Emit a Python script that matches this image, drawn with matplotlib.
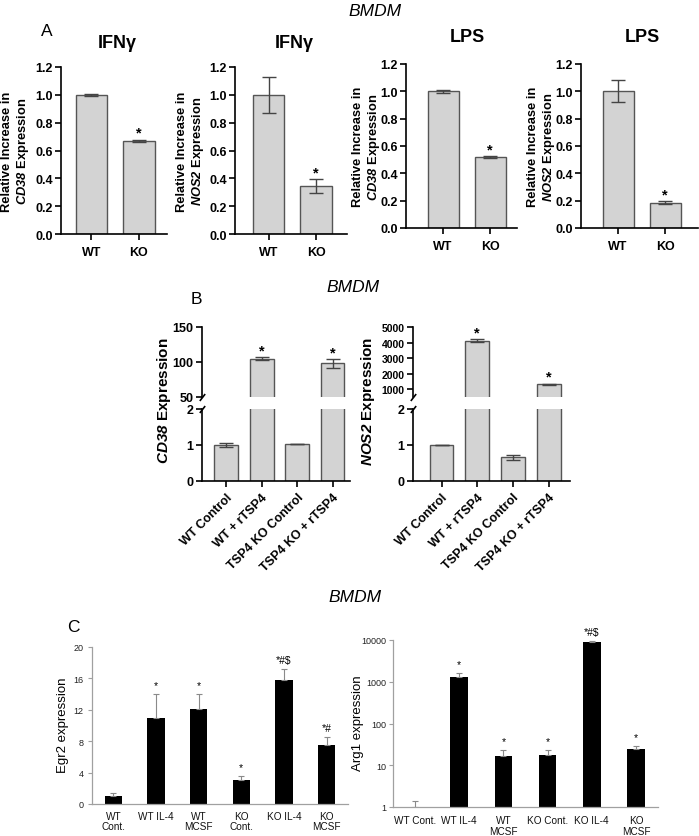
import matplotlib
matplotlib.use('Agg')
import matplotlib.pyplot as plt
import numpy as np
from matplotlib.ticker import FixedLocator, FixedFormatter, NullLocator

plt.rcParams['font.family'] = ['Liberation Sans', 'DejaVu Sans']
plt.rcParams['mathtext.fontset'] = 'custom'
plt.rcParams['mathtext.rm'] = 'Liberation Sans'
plt.rcParams['mathtext.it'] = 'Liberation Sans:italic'
plt.rcParams['mathtext.bf'] = 'Liberation Sans:bold'
plt.rcParams['mathtext.bfit'] = 'Liberation Sans:italic:bold'

# ---------------- data ----------------
a_groups = ['WT', 'KO']
a_titles = ['IFNγ', 'IFNγ', 'LPS', 'LPS']
a_genes = ['CD38', 'NOS2', 'CD38', 'NOS2']
a_means = [[1.0, 0.67], [1.0, 0.345], [1.0, 0.52], [1.0, 0.185]]
a_errs = [[0.005, 0.007], [0.13, 0.047], [0.01, 0.005], [0.08, 0.01]]
a_stars = ['', '*']

b_groups = ['WT Control', 'WT + rTSP4', 'TSP4 KO Control', 'TSP4 KO + rTSP4']
b_cd38_mean = [1.0, 105, 1.03, 98]
b_cd38_err = [0.06, 2, 0.005, 6]
b_nos2_mean = [1.0, 4120, 0.66, 1330]
b_nos2_err = [0.01, 80, 0.07, 30]
b_stars = ['', '*', '', '*']
b_cd38_upper_ticks = [50, 100, 150]
b_nos2_upper_ticks = [1000, 2000, 3000, 4000, 5000]
b_lower_ticks = [0, 1, 2]

c_egr2_labels = ['WT\nCont.', 'WT IL-4', 'WT\nMCSF', 'KO\nCont.', 'KO IL-4', 'KO\nMCSF']
c_egr2_mean = [1.0, 11.0, 12.1, 3.1, 15.8, 7.55]
c_egr2_err = [0.4, 3.0, 1.9, 0.45, 1.4, 0.95]
c_egr2_sig = ['', '*', '*', '*', '*#$', '*#']
c_egr2_ticks = [0, 4, 8, 12, 16, 20]
c_arg1_labels = ['WT Cont.', 'WT IL-4', 'WT\nMCSF', 'KO Cont.', 'KO IL-4', 'KO\nMCSF']
c_arg1_mean = [1.0, 1290, 16.6, 17.5, 8950, 24.5]
c_arg1_err = [0.4, 300, 6.5, 5.5, 600, 4.5]
c_arg1_sig = ['', '*', '*', '*', '*#$', '*']
c_arg1_ticks = [1, 10, 100, 1000, 10000]

# ---------------- figure ----------------
W, H = 699, 837
fig = plt.figure(figsize=(W / 100, H / 100), dpi=100)


def rect(x0, x1, y0, y1):
    return [x0 / W, 1 - y1 / H, (x1 - x0) / W, (y1 - y0) / H]


def P(x, y):
    return (x / W, 1 - y / H)


BAR_FC = '#d3d3d3'
BAR_EC = '#555555'
ERR_C = '#444444'


def bold_ticks(ax, size=9, ysize=None):
    for lab in ax.get_xticklabels():
        lab.set_fontweight('bold')
        lab.set_fontsize(size)
    for lab in ax.get_yticklabels():
        lab.set_fontweight('bold')
        lab.set_fontsize(ysize if ysize else size)


def style_prism(ax):
    for s in ['top', 'right']:
        ax.spines[s].set_visible(False)
    for s in ['left', 'bottom']:
        ax.spines[s].set_linewidth(1.2)
    ax.tick_params(direction='out', length=4, width=1.2, pad=2)


# ---------------- Panel A ----------------
fig.text(*P(375, 11), 'BMDM', fontsize=12.5, style='italic', ha='center', va='center')
fig.text(*P(47, 32), 'A', fontsize=12.5, ha='center', va='center')

a_layout = [(61, 167, 68, 235, -0.64, 1.59),
            (235, 347, 68, 235, -0.705, 1.65),
            (406, 517, 65, 229, -0.79, 1.57),
            (581, 698, 65, 229, -0.79, 1.70)]
a_title_pos = [(117, 43), (294, 43), (467, 38), (642, 38)]
a_ylab_x = [16, 191, 367, 542]

for i in range(4):
    x0, x1, y0, y1, xl, xr = a_layout[i]
    ax = fig.add_axes(rect(x0, x1, y0, y1))
    xs = np.arange(len(a_groups))
    ax.bar(xs, a_means[i], width=0.66, color=BAR_FC, edgecolor=BAR_EC, linewidth=1.0)
    ax.errorbar(xs, a_means[i], yerr=a_errs[i], fmt='none', ecolor=ERR_C,
                elinewidth=1, capsize=5, capthick=1)
    for j in range(len(xs)):
        if a_stars[j]:
            ax.annotate(a_stars[j], (xs[j], a_means[i][j] + a_errs[i][j]),
                        xytext=(0, 0), textcoords='offset points', ha='center', va='bottom',
                        fontsize=10.5, fontweight='bold')
    ax.set_xlim(xl, xr)
    ax.set_ylim(0, 1.2)
    ax.set_yticks([0, 0.2, 0.4, 0.6, 0.8, 1.0, 1.2])
    ax.set_yticklabels(['0.0', '0.2', '0.4', '0.6', '0.8', '1.0', '1.2'])
    ax.set_xticks(xs)
    ax.set_xticklabels(a_groups)
    style_prism(ax)
    ax.tick_params(axis='x', pad=5)
    bold_ticks(ax, 9)
    tx, ty = a_title_pos[i]
    fig.text(*P(tx, ty), a_titles[i], fontsize=13, fontweight='bold', ha='center', va='center')
    yc = (y0 + y1) / 2
    fig.text(*P(a_ylab_x[i], yc),
             'Relative Increase in\n$\\mathbfit{' + a_genes[i] + '}$ Expression',
             rotation=90, ha='center', va='center', fontsize=9.3, fontweight='bold',
             linespacing=1.1)

# ---------------- Panel B ----------------
fig.text(*P(353, 288), 'BMDM', fontsize=12.5, style='italic', ha='center', va='center')
fig.text(*P(196, 300), 'B', fontsize=12.5, ha='center', va='center')


def broken(xpx0, xpx1, xl, xr, means, errs, upper_lim, upper_ticks, gene, ylab_x, upsize):
    axu = fig.add_axes(rect(xpx0, xpx1, 328, 398))
    axl = fig.add_axes(rect(xpx0, xpx1, 410, 482))
    xs = np.arange(len(b_groups))
    for ax in (axu, axl):
        ax.bar(xs, means, width=0.67, color=BAR_FC, edgecolor=BAR_EC, linewidth=1.0)
        ax.errorbar(xs, means, yerr=errs, fmt='none', ecolor=ERR_C,
                    elinewidth=1, capsize=5, capthick=1)
        ax.set_xlim(xl, xr)
        style_prism(ax)
    axu.set_ylim(*upper_lim)
    axl.set_ylim(0, 2)
    axu.spines['bottom'].set_visible(False)
    axu.set_xticks([])
    axu.set_yticks(upper_ticks)
    axl.set_yticks(b_lower_ticks)
    axl.set_xticks(xs)
    axl.set_xticklabels(b_groups, rotation=45, ha='right', rotation_mode='anchor')
    axl.tick_params(axis='x', pad=3)
    bold_ticks(axu, 9, upsize)
    bold_ticks(axl, 9)
    for j in range(len(xs)):
        if b_stars[j]:
            axu.annotate(b_stars[j], (xs[j], means[j] + errs[j]), xytext=(0, 0),
                         textcoords='offset points', ha='center', va='bottom',
                         fontsize=10.5, fontweight='bold')
    # break marks
    for ax, yy in ((axu, 0), (axl, 1)):
        ax.plot([0], [yy], transform=ax.transAxes, marker=[(-1, -1.3), (1, 1.3)],
                markersize=5, linestyle='none', color='k', mec='k', mew=1.2, clip_on=False)
    fig.text(*P(ylab_x, 401), '$\\mathbfit{' + gene + '}$ Expression', rotation=90,
             ha='center', va='center', fontsize=11, fontweight='bold')


broken(202, 350, -0.68, 3.49, b_cd38_mean, b_cd38_err, (50, 150), b_cd38_upper_ticks,
       'CD38', 164, 9)
broken(413, 570, -0.8, 3.6, b_nos2_mean, b_nos2_err, (500, 5000), b_nos2_upper_ticks,
       'NOS2', 368, 7.5)

# ---------------- Panel C ----------------
fig.text(*P(355, 598), 'BMDM', fontsize=12.5, style='italic', ha='center', va='center')
fig.text(*P(73, 628), 'C', fontsize=12.5, ha='center', va='center')

GRAY = '#a0a0a0'


def style_c(ax):
    for s in ['top', 'right']:
        ax.spines[s].set_visible(False)
    for s in ['left', 'bottom']:
        ax.spines[s].set_linewidth(0.9)
        ax.spines[s].set_color(GRAY)
    ax.tick_params(axis='y', direction='out', length=3, width=0.8, color=GRAY,
                   labelsize=6.5, labelcolor='#222222', pad=3)
    ax.tick_params(axis='x', length=0, labelsize=7.2, labelcolor='#111111')


# Egr2
axc1 = fig.add_axes(rect(92, 348, 648, 805))
xs = np.arange(len(c_egr2_labels))
axc1.bar(xs, c_egr2_mean, width=0.4, color='black')
axc1.errorbar(xs, c_egr2_mean, yerr=[np.zeros(len(xs)), c_egr2_err], fmt='none',
              ecolor='#8a8a8a', elinewidth=0.8, capsize=2.2, capthick=0.8)
for j in range(len(xs)):
    if c_egr2_sig[j]:
        axc1.annotate(c_egr2_sig[j], (xs[j], c_egr2_mean[j] + c_egr2_err[j]), xytext=(0, 3),
                      textcoords='offset points', ha='center', va='bottom', fontsize=7.5)
axc1.set_xlim(-0.5, 5.5)
axc1.set_ylim(0, 20)
axc1.set_yticks(c_egr2_ticks)
axc1.set_xticks(xs)
axc1.set_xticklabels(c_egr2_labels, linespacing=1.05)
style_c(axc1)
axc1.tick_params(axis='x', pad=5)
fig.text(*P(63, 725), 'Egr2 expression', rotation=90, ha='center', va='center', fontsize=9.5)

# Arg1
axc2 = fig.add_axes(rect(393, 658, 641, 808))
axc2.set_yscale('log')
xs = np.arange(len(c_arg1_labels))
axc2.bar(xs, c_arg1_mean, width=0.4, color='black')
axc2.errorbar(xs, c_arg1_mean, yerr=[np.zeros(len(xs)), c_arg1_err], fmt='none',
              ecolor='#8a8a8a', elinewidth=0.8, capsize=2.2, capthick=0.8)
for j in range(len(xs)):
    if c_arg1_sig[j]:
        axc2.annotate(c_arg1_sig[j], (xs[j], c_arg1_mean[j] + c_arg1_err[j]), xytext=(0, 3),
                      textcoords='offset points', ha='center', va='bottom', fontsize=7.5)
axc2.set_xlim(-0.5, 5.5)
axc2.set_ylim(1, 10000)
axc2.yaxis.set_major_locator(FixedLocator(c_arg1_ticks))
axc2.yaxis.set_major_formatter(FixedFormatter([str(t) for t in c_arg1_ticks]))
axc2.yaxis.set_minor_locator(NullLocator())
axc2.set_xticks(xs)
axc2.set_xticklabels(c_arg1_labels, linespacing=1.05)
style_c(axc2)
axc2.tick_params(axis='y', pad=2)
axc2.tick_params(axis='x', pad=6)
fig.text(*P(358, 723), 'Arg1 expression', rotation=90, ha='center', va='center', fontsize=9.5)

fig.savefig('out.png', dpi=100)
